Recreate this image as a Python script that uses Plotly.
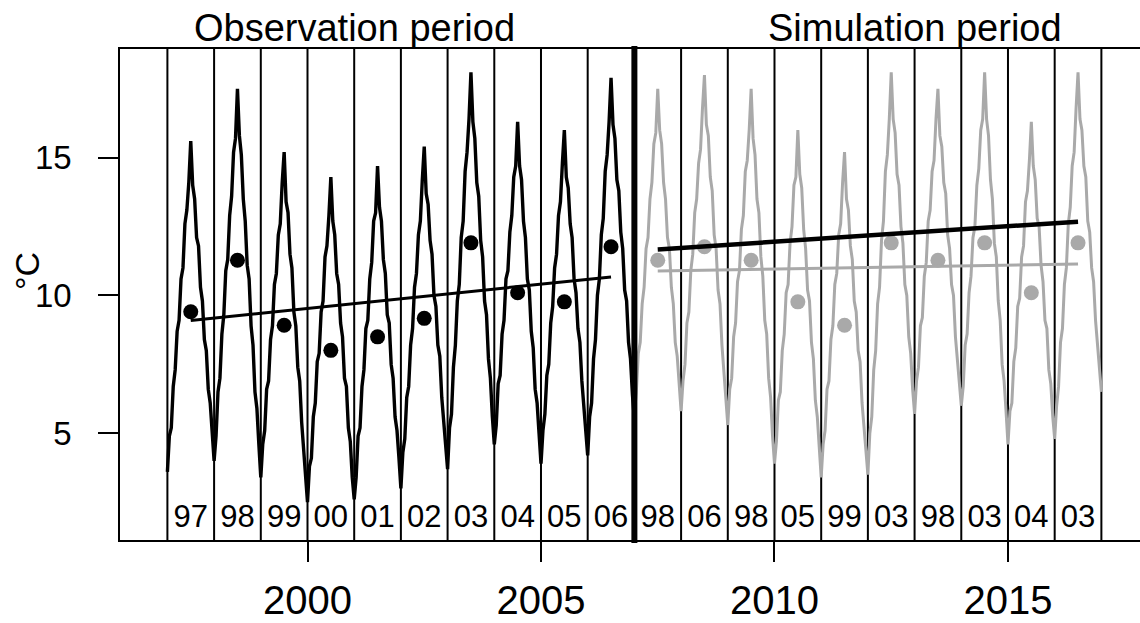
import numpy as np
import plotly.graph_objects as go

# ---------------- data ----------------
obs_years = [1997, 1998, 1999, 2000, 2001, 2002, 2003, 2004, 2005, 2006]
sim_years = [2007, 2008, 2009, 2010, 2011, 2012, 2013, 2014, 2015, 2016]
obs_labels = ["97", "98", "99", "00", "01", "02", "03", "04", "05", "06"]
sim_labels = ["98", "06", "98", "05", "99", "03", "98", "03", "04", "03"]

# annual means (dots)
obs_means = [9.41, 11.28, 8.92, 8.01, 8.50, 9.17, 11.91, 10.10, 9.77, 11.77]
sim_means = [11.28, 11.77, 11.28, 9.77, 8.92, 11.91, 11.28, 11.91, 10.10, 11.91]

# thick black trend over the simulation period (end points)
sim_trend_x = [2007.5, 2016.5]
sim_trend_y = [11.67, 12.68]

# half-monthly temperatures, one list per year (24 samples, from 1 January)
obs_temps = [
    [3.6, 4.9, 5.2, 6.7, 7.3, 8.7, 9.1, 10.6, 11.0, 12.6, 13.1, 14.1, 15.6, 14.0, 13.5, 12.1, 11.8, 10.3, 9.8, 8.4, 8.0, 6.6, 6.1, 4.8],      # 1997
    [4.0, 4.9, 6.5, 7.0, 8.6, 9.3, 10.9, 11.3, 12.9, 13.6, 15.2, 15.7, 17.5, 15.8, 15.1, 13.5, 12.7, 11.1, 10.6, 8.9, 8.2, 6.5, 5.9, 4.6],     # 1998
    [3.4, 4.6, 5.1, 6.6, 6.9, 8.4, 8.9, 10.4, 10.8, 12.2, 12.6, 14.1, 15.2, 13.4, 13.0, 11.5, 11.0, 9.4, 8.9, 7.4, 6.9, 5.4, 4.5, 3.7],      # 1999
    [2.5, 3.8, 4.1, 5.6, 6.1, 7.6, 7.9, 9.4, 9.8, 11.4, 11.8, 12.9, 14.3, 12.7, 12.2, 10.8, 10.4, 9.0, 8.5, 7.0, 6.7, 5.2, 4.7, 3.4],       # 2000
    [2.6, 3.4, 4.9, 5.2, 6.7, 7.3, 8.8, 9.1, 10.6, 11.2, 12.7, 13.0, 14.7, 13.2, 12.7, 11.3, 10.8, 9.3, 9.0, 7.5, 7.0, 5.6, 5.1, 4.1],      # 2001
    [3.0, 4.3, 4.8, 6.3, 6.7, 8.2, 8.8, 10.3, 10.8, 12.2, 12.7, 14.2, 15.4, 13.7, 13.3, 12.0, 11.5, 10.0, 9.6, 8.2, 7.8, 6.3, 5.5, 4.8],     # 2002
    [3.7, 5.2, 5.7, 7.4, 8.2, 9.8, 10.4, 12.1, 12.7, 14.5, 15.2, 16.4, 18.1, 16.3, 15.7, 14.1, 13.6, 12.0, 11.4, 9.8, 9.3, 7.7, 7.0, 5.6],   # 2003
    [4.6, 5.3, 6.8, 7.1, 8.6, 9.1, 10.6, 10.9, 12.3, 12.9, 14.3, 14.7, 16.3, 14.7, 14.2, 12.7, 12.1, 10.6, 10.2, 8.7, 8.1, 6.6, 6.1, 5.0],   # 2004
    [3.9, 5.1, 5.7, 7.1, 7.5, 9.0, 9.6, 11.0, 11.5, 12.9, 13.4, 14.8, 16.0, 14.3, 13.9, 12.6, 12.1, 10.6, 10.1, 8.8, 8.3, 6.9, 6.0, 5.4],    # 2005
    [4.2, 5.6, 6.1, 7.7, 8.4, 10.0, 10.6, 12.2, 12.8, 14.5, 15.1, 16.3, 17.9, 16.2, 15.7, 14.2, 13.8, 12.3, 11.7, 10.2, 9.8, 8.3, 7.7, 6.4], # 2006
]
obs_last_day = 5.5   # 31 Dec 2006

sim_temps = [
    [5.7, 6.5, 7.9, 8.3, 9.7, 10.3, 11.7, 12.1, 13.5, 14.1, 15.5, 15.9, 17.5, 16.0, 15.5, 14.1, 13.5, 12.1, 11.7, 10.3, 9.7, 8.3, 7.8, 6.8],   # 2007
    [5.8, 6.9, 7.5, 9.0, 9.4, 10.9, 11.5, 13.0, 13.5, 14.8, 15.3, 16.8, 18.0, 16.2, 15.8, 14.3, 13.8, 12.2, 11.7, 10.2, 9.7, 8.2, 7.3, 6.5],  # 2008
    [5.3, 6.6, 7.0, 8.5, 9.0, 10.5, 10.9, 12.4, 12.9, 14.5, 14.9, 16.0, 17.5, 15.7, 15.1, 13.5, 13.0, 11.4, 10.7, 9.1, 8.6, 7.0, 6.3, 4.9],   # 2009
    [3.9, 4.7, 6.2, 6.5, 8.0, 8.6, 10.1, 10.4, 11.9, 12.5, 14.0, 14.3, 16.0, 14.4, 13.9, 12.4, 11.7, 10.2, 9.8, 8.3, 7.7, 6.2, 5.6, 4.5],    # 2010
    [3.4, 4.6, 5.1, 6.6, 6.9, 8.4, 8.9, 10.4, 10.8, 12.2, 12.6, 14.1, 15.2, 13.5, 13.1, 11.8, 11.3, 9.8, 9.4, 8.0, 7.6, 6.1, 5.3, 4.6],      # 2011
    [3.5, 5.0, 5.6, 7.3, 8.0, 9.7, 10.3, 12.0, 12.7, 14.5, 15.1, 16.4, 18.1, 16.4, 15.9, 14.4, 14.0, 12.5, 11.9, 10.4, 10.0, 8.5, 7.9, 6.6],  # 2012
    [5.7, 6.9, 7.4, 8.9, 9.2, 10.7, 11.2, 12.7, 13.1, 14.5, 14.9, 16.4, 17.5, 15.8, 15.4, 14.1, 13.7, 12.2, 11.7, 10.4, 10.0, 8.5, 7.7, 7.1],  # 2013
    [6.0, 6.7, 8.2, 8.6, 10.1, 10.7, 12.1, 12.5, 14.0, 14.6, 16.0, 16.4, 18.1, 16.4, 15.8, 14.2, 13.5, 11.9, 11.4, 9.8, 9.1, 7.5, 6.9, 5.8],  # 2014
    [4.6, 5.8, 6.1, 7.6, 8.1, 9.6, 9.9, 11.4, 11.8, 13.4, 13.8, 14.9, 16.3, 14.7, 14.2, 12.8, 12.5, 11.1, 10.5, 9.1, 8.8, 7.3, 6.8, 5.6],    # 2015
    [4.8, 6.0, 6.7, 8.3, 8.8, 10.4, 11.0, 12.6, 13.2, 14.7, 15.2, 16.8, 18.1, 16.4, 16.0, 14.7, 14.3, 12.7, 12.3, 11.0, 10.5, 9.1, 8.3, 7.6],  # 2016
]
sim_last_day = 6.5   # 31 Dec 2016

year_bounds = list(range(1997, 2018))
period_split = 2007
x_ticks = [2000, 2005, 2010, 2015]
y_ticks = [5, 10, 15]
period_titles = ["Observation period", "Simulation period"]
y_title = "°C"

# ---------------- styling ----------------
FONT = "Liberation Sans, Arial, Helvetica, sans-serif"
GREY = "#a9a9a9"
X_RANGE = [1995.985, 2017.827]
Y_RANGE = [1.128, 18.944]


def series(years, temps, last_value):
    xs, ys = [], []
    for yr, vals in zip(years, temps):
        n = len(vals)
        xs.extend(yr + np.arange(n) / n)
        ys.extend(vals)
    xs.append(years[-1] + 1)
    ys.append(last_value)
    return xs, ys


obs_x, obs_y = series(obs_years, obs_temps, obs_last_day)
sim_x, sim_y = series(sim_years, sim_temps, sim_last_day)
obs_mid = [y + 0.5 for y in obs_years]
sim_mid = [y + 0.5 for y in sim_years]

obs_fit = np.polyfit(obs_mid, obs_means, 1)
sim_fit = np.polyfit(sim_mid, sim_means, 1)
obs_tx = [obs_mid[0], obs_mid[-1]]
sim_tx = [sim_mid[0], sim_mid[-1]]

fig = go.Figure()

fig.add_trace(go.Scatter(x=obs_x, y=obs_y, mode="lines",
                         line=dict(color="black", width=3.4), hoverinfo="skip"))
fig.add_trace(go.Scatter(x=sim_x, y=sim_y, mode="lines",
                         line=dict(color=GREY, width=3.0), hoverinfo="skip"))

fig.add_trace(go.Scatter(x=obs_mid, y=obs_means, mode="markers",
                         marker=dict(color="black", size=15, line=dict(width=0))))
fig.add_trace(go.Scatter(x=sim_mid, y=sim_means, mode="markers",
                         marker=dict(color=GREY, size=15, line=dict(width=0))))

fig.add_trace(go.Scatter(x=obs_tx, y=list(np.polyval(obs_fit, obs_tx)), mode="lines",
                         line=dict(color="black", width=3)))
fig.add_trace(go.Scatter(x=sim_tx, y=list(np.polyval(sim_fit, sim_tx)), mode="lines",
                         line=dict(color=GREY, width=3)))
fig.add_trace(go.Scatter(x=sim_trend_x, y=sim_trend_y, mode="lines",
                         line=dict(color="black", width=4.5)))

# year labels at the bottom of each band
fig.add_trace(go.Scatter(x=obs_mid + sim_mid, y=[1.89] * (len(obs_mid) + len(sim_mid)),
                         mode="text", text=obs_labels + sim_labels,
                         textfont=dict(family=FONT, size=31, color="black"),
                         textposition="middle center"))

# vertical year boundaries
for yb in year_bounds:
    if yb == period_split:
        continue
    fig.add_shape(type="line", x0=yb, x1=yb, y0=0, y1=1, xref="x", yref="paper",
                  line=dict(color="black", width=2), layer="below")
fig.add_shape(type="line", x0=period_split, x1=period_split, y0=-0.006, y1=1.006,
              xref="x", yref="paper", line=dict(color="black", width=6), layer="above")

# period titles
fig.add_annotation(x=2001.0, y=1.0418, xref="x", yref="paper", text=period_titles[0],
                   showarrow=False, font=dict(family=FONT, size=38, color="black"),
                   xanchor="center", yanchor="middle")
fig.add_annotation(x=2013.0, y=1.0418, xref="x", yref="paper", text=period_titles[1],
                   showarrow=False, font=dict(family=FONT, size=38, color="black"),
                   xanchor="center", yanchor="middle")
# y-axis title
fig.add_annotation(x=-0.091, y=0.548, xref="paper", yref="paper", text=y_title,
                   showarrow=False, textangle=-90,
                   font=dict(family=FONT, size=34, color="black"),
                   xanchor="center", yanchor="middle")

fig.update_layout(
    width=1140, height=623,
    margin=dict(l=120, r=0, t=49, b=83),
    paper_bgcolor="white", plot_bgcolor="white",
    showlegend=False,
    font=dict(family=FONT, color="black"),
)
fig.update_xaxes(range=X_RANGE, tickvals=x_ticks, ticks="outside", ticklen=20,
                 tickwidth=1.5, tickcolor="black", showline=True, linecolor="black",
                 linewidth=1.5, mirror=True, showgrid=False, zeroline=False,
                 tickfont=dict(family=FONT, size=40, color="black"),
                 ticklabelstandoff=4)
fig.update_yaxes(range=Y_RANGE, tickvals=y_ticks, ticks="outside", ticklen=20,
                 tickwidth=1.5, tickcolor="black", showline=True, linecolor="black",
                 linewidth=1.5, showgrid=False, zeroline=False,
                 tickfont=dict(family=FONT, size=33, color="black"),
                 ticklabelstandoff=20)

fig.write_html("out.html")
